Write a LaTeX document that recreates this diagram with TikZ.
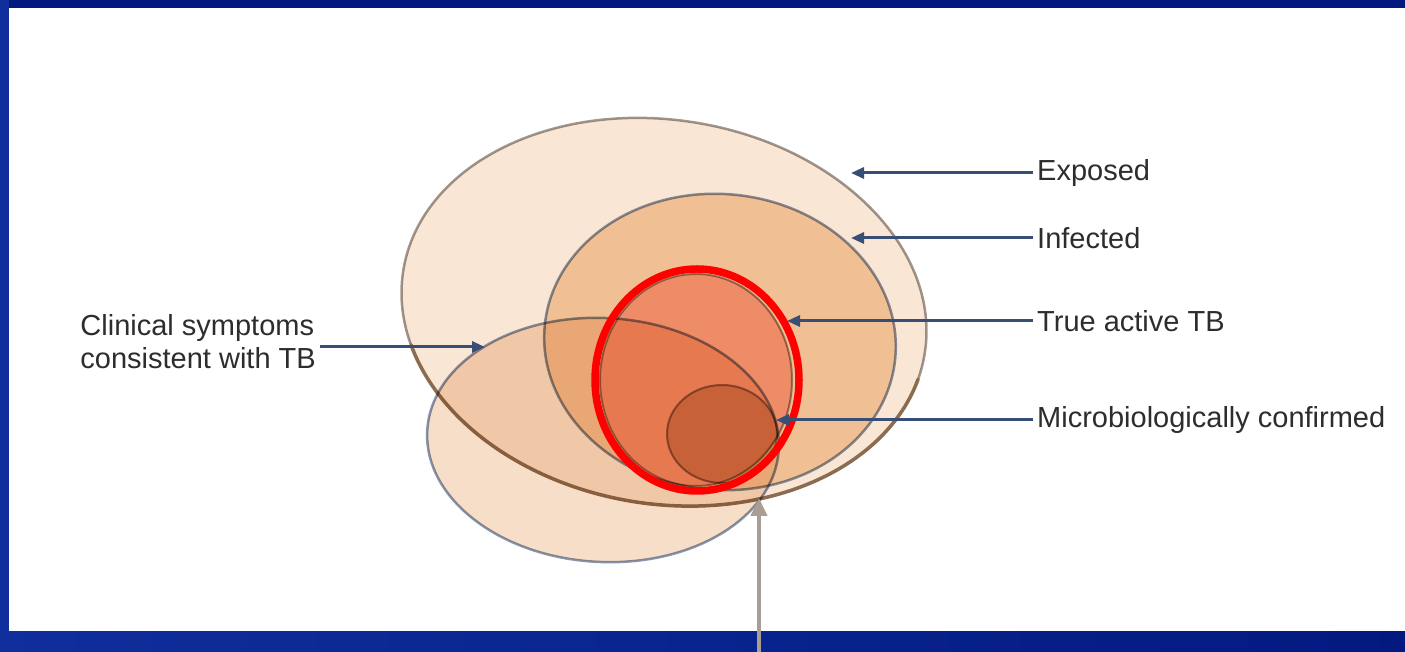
\documentclass[tikz,border=0pt]{standalone}
\usepackage{fontspec}
\setmainfont{Liberation Sans}
\usetikzlibrary{arrows.meta}

\definecolor{frameblue}{RGB}{2,26,128}
\definecolor{frameblueL}{RGB}{16,46,156}
\definecolor{exposedfill}{RGB}{249,230,213}
\definecolor{infectedfill}{RGB}{246,213,178}
\definecolor{clinicalfill}{RGB}{247,222,200}
\definecolor{truefill}{RGB}{253,186,178}
\definecolor{microfill}{RGB}{221,208,180}
\definecolor{outlinegray}{RGB}{160,152,146}
\definecolor{outlineblue}{RGB}{136,150,176}
\definecolor{rimbrown}{RGB}{140,108,80}
\definecolor{pointerblue}{RGB}{56,78,116}
\definecolor{textgray}{RGB}{45,45,45}
\definecolor{arrowgray}{RGB}{168,158,148}

\begin{document}
\begin{tikzpicture}[x=1pt, y=1pt,
    setfill/.style={blend mode=multiply, line width=2.5pt},
    tag/.style={font=\fontsize{29}{33}\selectfont, text=textgray, inner sep=4pt},
    pointer/.style={draw=pointerblue, line width=3pt, -{Triangle[length=13pt, width=11pt]}}]

    \useasboundingbox (0,0) rectangle (1405,652);

    % =========================================================================
    % FRAME
    % =========================================================================
    \fill[white] (0,0) rectangle (1405,652);
    \fill[frameblue] (0,644) rectangle (1405,652);
    \fill[frameblueL] (0,0) rectangle (9,652);
    \shade[left color=frameblueL, right color=frameblue] (0,0) rectangle (1405,20);

    % =========================================================================
    % NESTED SETS
    % =========================================================================
    \coordinate (ExposedCenter) at (664,340);
    \coordinate (InfectedCenter) at (720,310);
    \coordinate (ClinicalCenter) at (603,212);
    \coordinate (TrueCenter) at (696,272);
    \coordinate (MicroCenter) at (722,218);

    % --- Exposed ---
    \draw[setfill, fill=exposedfill, draw=outlinegray, rotate around={-9:(ExposedCenter)}]
        (ExposedCenter) ellipse [x radius=264, y radius=192];
    \begin{scope}[shift={(ExposedCenter)}, rotate=-9]
        \draw[rimbrown, line width=3.5pt, line cap=round]
            (202:264 and 192) arc [start angle=202, end angle=352, x radius=264, y radius=192];
    \end{scope}

    % --- Infected ---
    \draw[setfill, fill=infectedfill, draw=outlineblue, rotate around={-5:(InfectedCenter)}]
        (InfectedCenter) ellipse [x radius=176, y radius=148];

    % --- Clinical symptoms ---
    \draw[setfill, fill=clinicalfill, draw=outlineblue, rotate around={-3:(ClinicalCenter)}]
        (ClinicalCenter) ellipse [x radius=176, y radius=122];

    % --- True active TB ---
    \draw[setfill, fill=truefill, draw=outlinegray, line width=2pt]
        (TrueCenter) ellipse [x radius=96, y radius=106];

    % --- Microbiologically confirmed ---
    \draw[setfill, fill=microfill, draw=outlinegray, line width=2pt]
        (MicroCenter) ellipse [x radius=55, y radius=49];

    % --- Red highlight ring ---
    \draw[red, line width=7.5pt] (697,272) ellipse [x radius=102, y radius=111];

    % =========================================================================
    % LABELS AND POINTERS
    % =========================================================================
    \coordinate (ExposedTip) at (851,479);
    \coordinate (InfectedTip) at (851,414);
    \coordinate (TrueTip) at (787,331);
    \coordinate (MicroTip) at (776,232);
    \coordinate (ClinicalTip) at (485,305);

    \node[tag, anchor=west] (ExposedLabel) at (1033,479) {Exposed};
    \node[tag, anchor=west] (InfectedLabel) at (1033,414) {Infected};
    \node[tag, anchor=west] (TrueLabel) at (1033,331) {True active TB};
    \node[tag, anchor=west] (MicroLabel) at (1033,232) {Microbiologically confirmed};
    \node[tag, anchor=east, align=left] (ClinicalLabel) at (320,310.5)
        {Clinical symptoms\\consistent with TB};

    \draw[pointer] (ExposedLabel.west) -- (ExposedTip);
    \draw[pointer] (InfectedLabel.west) -- (InfectedTip);
    \draw[pointer] (TrueLabel.west) -- (TrueTip);
    \draw[pointer] (MicroLabel.west) -- (MicroTip);
    \draw[pointer] (ClinicalLabel.east |- ClinicalTip) -- (ClinicalTip);

    % --- Gray pointer from below ---
    \coordinate (GrayStart) at (759,0);
    \coordinate (GrayTip) at (759,154);
    \draw[arrowgray, line width=4pt, -{Triangle[length=18pt, width=16pt]}] (GrayStart) -- (GrayTip);

\end{tikzpicture}
\end{document}
